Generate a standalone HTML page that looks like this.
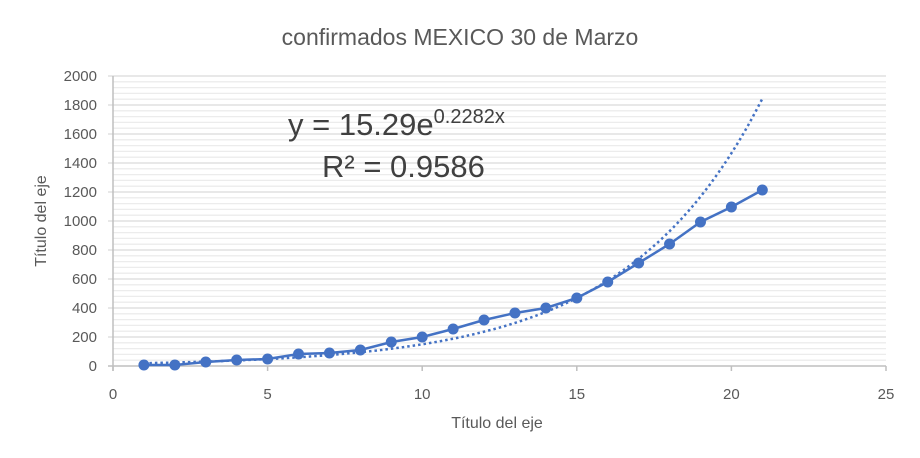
<!DOCTYPE html>
<html><head><meta charset="utf-8"><style>
body{margin:0;background:#fff;}
svg{display:block;font-family:"Liberation Sans",sans-serif;}
</style></head><body>
<svg width="920" height="458" viewBox="0 0 920 458" xmlns="http://www.w3.org/2000/svg">
<rect width="920" height="458" fill="#fff"/>
<text x="460" y="45" font-size="23" fill="#595959" text-anchor="middle">confirmados MEXICO 30 de Marzo</text>
<g id="grid"></g>
<g id="lbl" font-size="15" fill="#595959"></g>
<text x="497" y="428" font-size="16" fill="#595959" text-anchor="middle">Título del eje</text>
<text transform="translate(46,221) rotate(-90)" font-size="16" fill="#595959" text-anchor="middle">Título del eje</text>
<path id="trend" fill="none" stroke="#4472C4" stroke-width="2.5" stroke-dasharray="2.5,3"/>
<polyline id="ser" fill="none" stroke="#4472C4" stroke-width="2.5"/>
<g id="pts" fill="#4472C4"></g>
<text x="288" y="135" font-size="31" fill="#404040">y = 15.29e<tspan dy="-12" font-size="20">0.2282x</tspan></text>
<text x="322" y="177" font-size="31" fill="#404040">R² = 0.9586</text>
</svg>
<script>
const ns="http://www.w3.org/2000/svg";
function el(p,t,a){const e=document.createElementNS(ns,t);for(const k in a)e.setAttribute(k,a[k]);p.appendChild(e);return e;}
const g=document.getElementById('grid'),l=document.getElementById('lbl');
const X=x=>113+x*30.92,Y=v=>366-v*0.145;
for(let v=40;v<=2000;v+=40){if(v%200)el(g,'line',{x1:113,x2:886,y1:Y(v),y2:Y(v),stroke:'#ececec','stroke-width':1.3});}
for(let v=200;v<=2000;v+=200){el(g,'line',{x1:108,x2:886,y1:Y(v),y2:Y(v),stroke:'#d9d9d9','stroke-width':1.3});}
for(let v=0;v<=2000;v+=200){const t=el(l,'text',{x:97,y:Y(v)+5,'text-anchor':'end'});t.textContent=v;}
el(g,'line',{x1:113,x2:113,y1:Y(2000),y2:371,stroke:'#bfbfbf','stroke-width':1.5});
el(g,'line',{x1:108,x2:886,y1:366,y2:366,stroke:'#bfbfbf','stroke-width':1.5});
for(let x=0;x<=25;x+=5){el(g,'line',{x1:X(x),x2:X(x),y1:366,y2:371,stroke:'#bfbfbf','stroke-width':1.5});const t=el(l,'text',{x:X(x),y:399,'text-anchor':'middle'});t.textContent=x;}
let d='';for(let x=1;x<=21.001;x+=0.1){d+=(d?'L':'M')+X(x).toFixed(1)+','+Y(15.29*Math.exp(0.2282*x)).toFixed(1);}
document.getElementById('trend').setAttribute('d',d);
const py=[365,365,362,360,359,354,353,350,342,337,329,320,313,308,298,282,263,244,222,207,190];
const pts=py.map((y,i)=>X(i+1).toFixed(1)+','+y).join(' ');
document.getElementById('ser').setAttribute('points',pts);
const pg=document.getElementById('pts');py.forEach((y,i)=>el(pg,'circle',{cx:X(i+1),cy:y,r:5.5}));
</script>
</body></html>
